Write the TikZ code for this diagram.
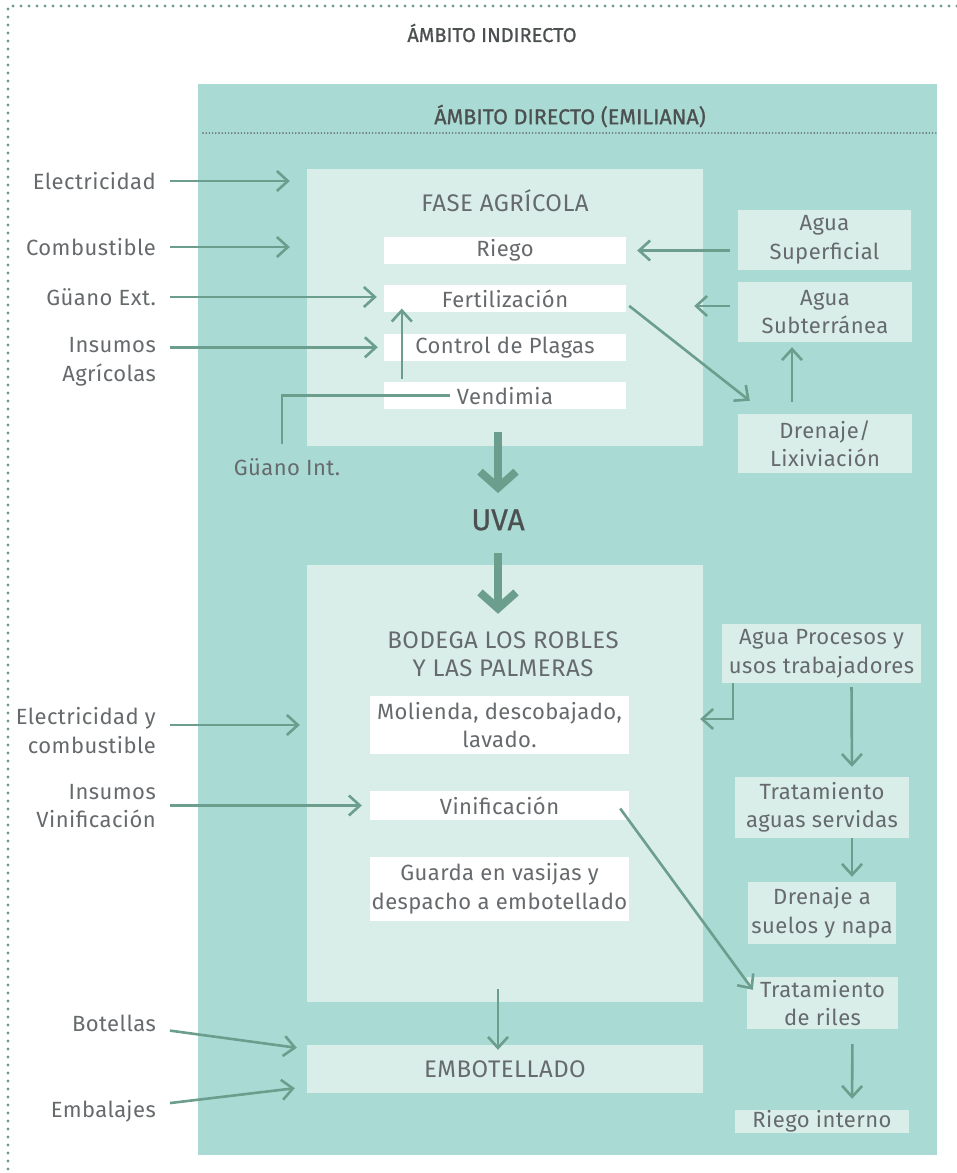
\documentclass[tikz,border=0pt]{standalone}
\usepackage{fontspec}
\setmainfont{Fira Sans}[LetterSpace=2]
\newfontfamily\headfont{Fira Sans}[FakeBold=0.8]
\usetikzlibrary{positioning, arrows.meta}

\definecolor{directo}{RGB}{169,219,212}
\definecolor{fase}{RGB}{217,238,233}
\definecolor{flecha}{RGB}{107,158,140}
\definecolor{texto}{RGB}{102,106,108}

\begin{document}
\begin{tikzpicture}[
    x=1pt, y=-1pt,
    >={Straight Barb[length=11pt,width=20pt]},
    every node/.style={text=texto, font=\fontsize{22}{28.5}\selectfont},
    flow/.style={flecha, line width=2.6pt},
    bigflow/.style={
        flecha,
        line width=8pt,
        -{Straight Barb[length=16pt,width=36pt]}
    },
    zone/.style={fill=fase, minimum width=396pt, inner sep=0pt},
    zonetitle/.style={font=\fontsize{24}{28}\selectfont, align=center},
    task/.style={fill=white, minimum width=242pt, inner sep=0pt, align=center},
    source/.style={fill=fase, inner sep=0pt, align=center},
    input/.style={anchor=east, align=right, inner sep=0pt},
    heading/.style={font=\headfont\fontsize{20}{24}\selectfont, text=texto!75!black},
    node distance=21pt
]
    \useasboundingbox (0,0) rectangle (957,1173);

    % === Ámbitos ===
    \draw[flecha, line width=3.4pt, line cap=round, dash pattern=on 0pt off 8pt]
        (957,6) -- (8,6) -- (8,1173);
    \node[heading] (indirecto) at (492,33) {ÁMBITO INDIRECTO};
    \node[fill=directo, minimum width=739pt, minimum height=1071pt, inner sep=0pt]
        (directo) at (567.5,619.5) {};
    \node[heading, font=\headfont\fontsize{21.5}{24}\selectfont] (directotit) at (570,116)
        {ÁMBITO DIRECTO (EMILIANA)};
    \draw[texto!80!black, line width=1.6pt, line cap=round, dash pattern=on 0pt off 3.2pt]
        (203,133) -- (937,133);

    % === Fase agrícola ===
    \node[zone, minimum height=277pt] (fase) at (505,307.5) {};
    \node[zonetitle] (fasetit) at (505,201) {FASE AGRÍCOLA};
    \node[task, minimum height=27pt] (riego) at (505,250.5) {Riego};
    \node[task, minimum height=27pt, below=of riego] (fert) {Fertilización};
    \node[task, minimum height=27pt, below=of fert] (plagas) {Control de Plagas};
    \node[task, minimum height=27pt, below=of plagas] (vend) {Vendimia};

    \node[source, minimum width=173pt, minimum height=60pt] (asup) at (824.5,240) {Agua\\Superficial};
    \node[source, minimum width=174pt, minimum height=60pt] (asub) at (825,312) {Agua\\Subterránea};
    \node[source, minimum width=174pt, minimum height=59pt] (dren) at (825,443.5) {Drenaje/\\Lixiviación};

    \node[input] (elec) at (156,181) {Electricidad};
    \node[input] (comb) at (156,247) {Combustible};
    \node[input] (gext) at (156,297) {Güano Ext.};
    \node[input] (insag) at (156,362) {Insumos\\Agrícolas};
    \node (gint) at (287,467) {Güano Int.};
    \coordinate (gbend) at (282,392);

    % === Uva ===
    \node[font=\headfont\fontsize{30}{36}\selectfont, text=texto!75!black, inner sep=0pt]
        (uva) at (498,520) {UVA};

    % === Bodega ===
    \node[zone, minimum height=437pt] (bod) at (505,783.5) {};
    \node[zonetitle] (bodtit) at (503,654) {BODEGA LOS ROBLES\\Y LAS PALMERAS};
    \node[task, minimum width=259pt, minimum height=58pt] (mol) at (499.5,725) {Molienda, descobajado,\\lavado.};
    \node[task, minimum width=259pt, minimum height=29pt] (vinif) at (499.5,805.5) {Vinificación};
    \node[task, minimum width=259pt, minimum height=64pt] (guarda) at (499.5,889) {Guarda en vasijas y\\despacho a embotellado};
    \node[zone, zonetitle, minimum height=48pt] (embot) at (505,1069) {EMBOTELLADO};

    \node[input] (eyc) at (156,730.5) {Electricidad y\\combustible};
    \node[input] (insvin) at (156,806) {Insumos\\Vinificación};
    \node[input] (bot) at (156,1023) {Botellas};
    \node[input] (emb) at (156,1111) {Embalajes};

    \node[source, minimum width=199pt, minimum height=59pt] (aproc) at (821.5,653.5) {Agua Procesos y\\usos trabajadores};
    \node[source, minimum width=174pt, minimum height=61pt] (tas) at (822,807.5) {Tratamiento\\aguas servidas};
    \node[source, minimum width=148pt, minimum height=62pt] (dsn) at (822,913) {Drenaje a\\suelos y napa};
    \node[source, minimum width=151pt, minimum height=52pt] (riles) at (822.5,1003) {Tratamiento\\de riles};
    \node[source, minimum width=174pt, minimum height=23pt] (rint) at (822,1121.5) {Riego interno};

    % === Flujos ===
    \path[flow, ->]
        (elec) edge[shorten <=14pt, shorten >=17pt] (elec -| fase.west)
        (comb) edge[shorten <=14pt, shorten >=17pt] (comb -| fase.west)
        (gext) edge[shorten <=14pt, shorten >=7pt] (gext -| fert.west)
        (insag.east |- plagas) edge[shorten <=14pt, shorten >=6pt] (plagas.west)
        ([xshift=18pt]vend.north west) edge[shorten <=3pt, shorten >=-4pt] ([xshift=18pt]fert.south west)
        (asup.west |- riego) edge[shorten <=8pt, shorten >=11pt] (riego.east)
        ([yshift=6pt]asub.west) edge[shorten <=8pt, shorten >=-9pt] ([yshift=6pt]asub.west -| fase.east)
        ([xshift=3pt,yshift=-7pt]fert.east) edge ([xshift=12pt,yshift=13pt]dren.north west)
        ([xshift=-33pt]dren.north) edge[shorten <=12pt, shorten >=5pt] ([xshift=-33pt]asub.south)
        (eyc.east |- mol) edge[shorten <=14pt, shorten >=7pt] (mol -| bod.west)
        (insvin.east |- vinif) edge[shorten <=14pt, shorten >=8pt] (vinif.west)
        (bot) edge[shorten <=14pt] ([xshift=-10pt,yshift=-3pt]embot.north west)
        (emb) edge[shorten <=14pt] ([xshift=-12pt,yshift=5pt]embot.south west)
        ([xshift=-9pt,yshift=-3pt]vinif.east) edge ([xshift=6pt,yshift=-13pt]riles.north west)
        ([xshift=30pt]aproc.south) edge[shorten <=4pt, shorten >=10pt] ([xshift=30pt]tas.north)
        ([xshift=30pt]tas.south) edge[shorten >=5pt] ([xshift=30pt]dsn.north)
        ([xshift=30pt]riles.south) edge[shorten <=15pt, shorten >=11pt] ([xshift=30pt]rint.north)
        (bod.south -| uva) edge[shorten <=-13pt, shorten >=-5pt] (embot.north -| uva);

    \draw[flow, ->, shorten >=-3pt] ([xshift=11pt]aproc.south west) |- ([yshift=6pt]bod.east |- mol.east);
    \draw[flow, shorten <=11pt] (gint.north -| gbend) |- ([xshift=66pt]vend.west);

    \path[bigflow]
        (fase.south -| uva) edge[shorten <=-14pt, shorten >=27pt] (uva.center)
        (uva.center) edge[shorten <=33pt, shorten >=-49pt] (bod.north -| uva);

\end{tikzpicture}
\end{document}
